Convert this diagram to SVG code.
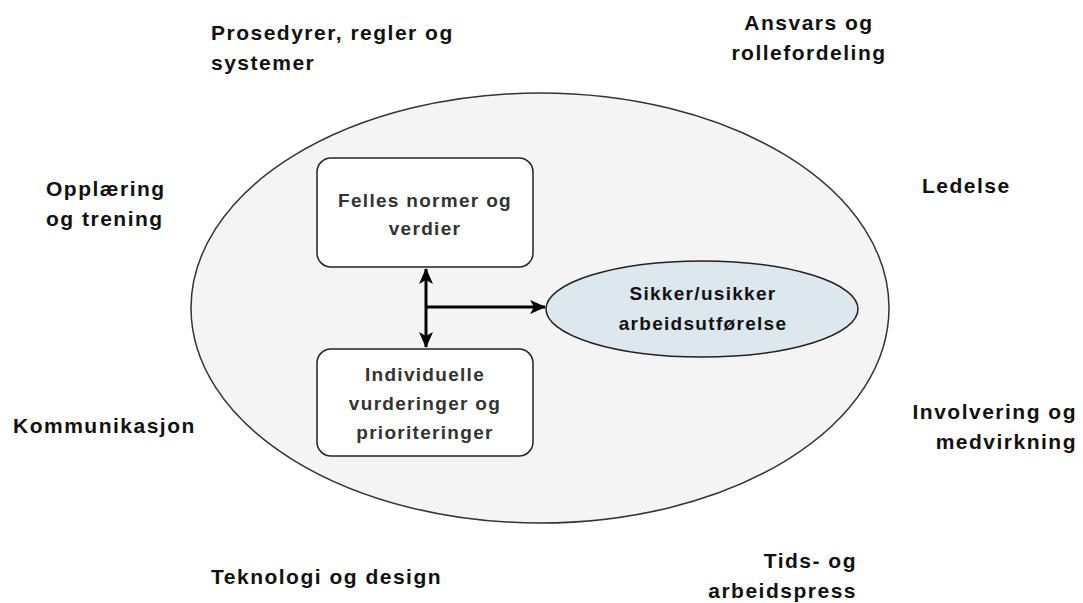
<svg xmlns="http://www.w3.org/2000/svg" width="1083" height="603" viewBox="0 0 1083 603">
<style>
.lbl{font-family:"Liberation Sans",Arial,sans-serif;font-weight:bold;font-size:21px;letter-spacing:1.5px;fill:#111}
.in{font-family:"Liberation Sans",Arial,sans-serif;font-weight:bold;font-size:19px;letter-spacing:1.3px;fill:#333;text-anchor:middle}
.box{fill:#ffffff;stroke:#222;stroke-width:1.5}
.conn{stroke:#000;stroke-width:3;fill:none}
</style>
<defs>
<marker id="ah" viewBox="0 0 16 14" refX="15" refY="7" markerWidth="16" markerHeight="14" markerUnits="userSpaceOnUse" orient="auto-start-reverse">
<path d="M0,0 L16,7 L0,14 L4,7 z" fill="#000"/>
</marker>
</defs>
<rect width="1083" height="603" fill="#fff"/>
<g id="outer">
<ellipse cx="540" cy="308" rx="349" ry="215" fill="#f4f4f4" stroke="#333" stroke-width="1.5"/>
</g>
<g id="felles">
<rect class="box" x="317" y="158" width="216" height="109" rx="14"/>
<text class="in" x="425" y="207">Felles normer og</text>
<text class="in" x="425" y="235">verdier</text>
</g>
<g id="individuelle">
<rect class="box" x="317" y="349" width="216" height="107" rx="14"/>
<text class="in" x="425" y="381">Individuelle</text>
<text class="in" x="425" y="410">vurderinger og</text>
<text class="in" x="425" y="439">prioriteringer</text>
</g>
<g id="sikker">
<ellipse cx="702" cy="309" rx="156" ry="48" fill="#dde7ee" stroke="#222" stroke-width="1.5"/>
<text class="in" x="703" y="300" fill="#111" style="fill:#111">Sikker/usikker</text>
<text class="in" x="703" y="330" style="fill:#111">arbeidsutførelse</text>
</g>
<g id="connectors">
<line class="conn" x1="426" y1="269" x2="426" y2="347" marker-start="url(#ah)" marker-end="url(#ah)"/>
<line class="conn" x1="426" y1="307" x2="545" y2="307" marker-end="url(#ah)"/>
</g>
<g id="prosedyrer"><text class="lbl" x="211" y="40">Prosedyrer, regler og</text><text class="lbl" x="211" y="70">systemer</text></g>
<g id="ansvar"><text class="lbl" x="809" y="30" text-anchor="middle">Ansvars og</text><text class="lbl" x="809" y="60" text-anchor="middle">rollefordeling</text></g>
<g id="opplaering"><text class="lbl" x="46" y="196">Opplæring</text><text class="lbl" x="46" y="226">og trening</text></g>
<g id="ledelse"><text class="lbl" x="922" y="193">Ledelse</text></g>
<g id="kommunikasjon"><text class="lbl" x="13" y="433">Kommunikasjon</text></g>
<g id="involvering"><text class="lbl" x="1077" y="419" text-anchor="end">Involvering og</text><text class="lbl" x="1077" y="449" text-anchor="end">medvirkning</text></g>
<g id="teknologi"><text class="lbl" x="211" y="584">Teknologi og design</text></g>
<g id="tids"><text class="lbl" x="857" y="568" text-anchor="end">Tids- og</text><text class="lbl" x="857" y="598" text-anchor="end">arbeidspress</text></g>
</svg>
